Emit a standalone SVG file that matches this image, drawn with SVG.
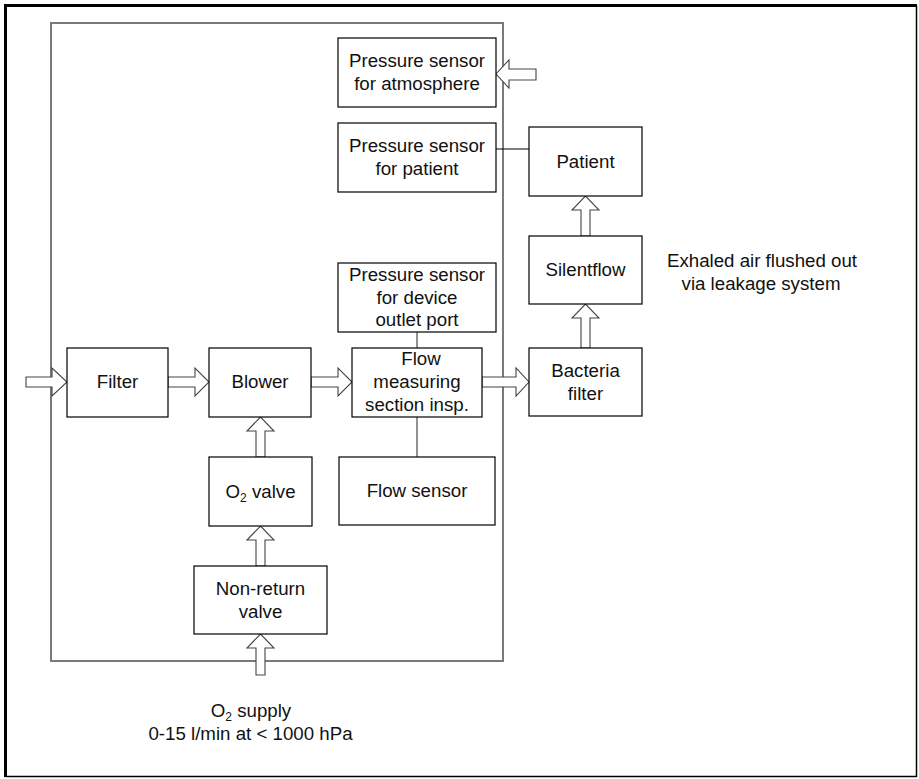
<svg xmlns="http://www.w3.org/2000/svg" width="919" height="779" viewBox="0 0 919 779">
<style>
.box{fill:#fff;stroke:#000;stroke-width:1.2}
.frame{fill:none;stroke:#7a7a7a;stroke-width:2}
.arr{fill:#fff;stroke:#444;stroke-width:1.1;stroke-linejoin:miter}
.ln{stroke:#000;stroke-width:1.2;fill:none}
.gl{stroke:#777;stroke-width:1.6;fill:none}
text{font-family:"Liberation Sans",Arial,Helvetica,sans-serif;font-size:18.7px;fill:#111;text-anchor:middle}
.sub{font-size:12px}
</style>
<rect x="0" y="0" width="919" height="779" fill="#fff"/>
<g id="outer-border">
<path d="M5.5 777 V5.5 H917" fill="none" stroke="#000" stroke-width="3"/>
<path d="M916.5 5.5 V776.5 H5.5" fill="none" stroke="#000" stroke-width="1.5"/>
</g>
<g id="device-frame"><rect class="frame" x="51" y="23" width="452" height="638"/></g>

<g id="connectors">
<line class="ln" x1="496" y1="149" x2="529" y2="149"/>
<line class="gl" x1="417" y1="332" x2="417" y2="348"/>
<line class="gl" x1="417" y1="417" x2="417" y2="457"/>
<!-- horizontal arrows -->
<polygon class="arr" points="26,377 52,377 52,368 67,382 52,396 52,387 26,387"/>
<polygon class="arr" points="168,377 195,377 195,368 209,382 195,396 195,387 168,387"/>
<polygon class="arr" points="311,377 338,377 338,368 352,382 338,396 338,387 311,387"/>
<polygon class="arr" points="482,377 516,377 516,368 529,382 516,396 516,387 482,387"/>
<polygon class="arr" points="536,69 509,69 509,60 496,74 509,88 509,80 536,80"/>
<!-- vertical arrows -->
<polygon class="arr" points="256,457 256,431 247,431 260.5,417 274,431 265,431 265,457"/>
<polygon class="arr" points="256,566 256,540 247,540 260.5,526 274,540 265,540 265,566"/>
<polygon class="arr" points="256,675 256,648 247,648 260.5,634 274,648 265,648 265,675"/>
<polygon class="arr" points="581,348 581,318 572,318 585.5,304 599,318 590,318 590,348"/>
<polygon class="arr" points="581,236 581,210 572,210 585.5,196 599,210 590,210 590,236"/>
</g>

<g id="ps-atmosphere"><rect class="box" x="338" y="38" width="158" height="69"/>
<text x="417" y="67">Pressure sensor</text><text x="417" y="90">for atmosphere</text></g>
<g id="ps-patient"><rect class="box" x="338" y="123" width="158" height="69"/>
<text x="417" y="152">Pressure sensor</text><text x="417" y="175">for patient</text></g>
<g id="patient"><rect class="box" x="529" y="127" width="113" height="69"/>
<text x="585.5" y="167.5">Patient</text></g>
<g id="silentflow"><rect class="box" x="529" y="236" width="113" height="68"/>
<text x="585.5" y="276">Silentflow</text></g>
<g id="bacteria-filter"><rect class="box" x="529" y="348" width="113" height="68"/>
<text x="585.5" y="376.5">Bacteria</text><text x="585.5" y="399.5">filter</text></g>
<g id="ps-device"><rect class="box" x="338" y="263" width="158" height="69"/>
<text x="417" y="280.7">Pressure sensor</text><text x="417" y="303.5">for device</text><text x="417" y="326">outlet port</text></g>
<g id="flow-measuring"><rect class="box" x="352" y="348" width="130" height="69"/>
<text x="421" y="365">Flow</text><text x="417" y="388">measuring</text><text x="417" y="411">section insp.</text></g>
<g id="filter"><rect class="box" x="67" y="348" width="101" height="69"/>
<text x="117.5" y="388">Filter</text></g>
<g id="blower"><rect class="box" x="209" y="348" width="102" height="69"/>
<text x="260" y="388">Blower</text></g>
<g id="flow-sensor"><rect class="box" x="339" y="457" width="156" height="68"/>
<text x="417" y="497">Flow sensor</text></g>
<g id="o2-valve"><rect class="box" x="209" y="457" width="103" height="69"/>
<text x="260.5" y="497.5">O<tspan class="sub" dy="4">2</tspan><tspan dy="-4"> valve</tspan></text></g>
<g id="non-return-valve"><rect class="box" x="194" y="566" width="133" height="68"/>
<text x="260.5" y="594.5">Non-return</text><text x="260.5" y="617.5">valve</text></g>

<g id="labels">
<text x="762" y="267">Exhaled air flushed out</text>
<text x="761" y="289.5">via leakage system</text>
<text x="251" y="717">O<tspan class="sub" dy="4">2</tspan><tspan dy="-4"> supply</tspan></text>
<text x="250.5" y="740">0-15 l/min at &lt; 1000 hPa</text>
</g>
</svg>
